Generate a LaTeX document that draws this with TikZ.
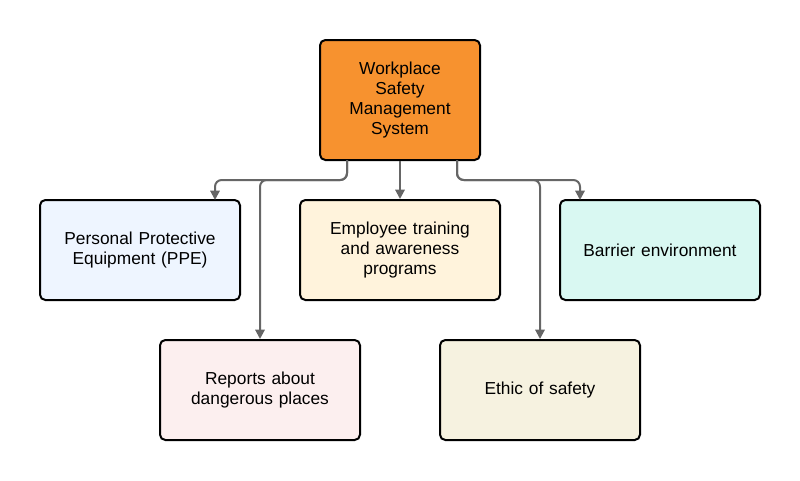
\documentclass[tikz,border=0pt]{standalone}
\usepackage{fontspec}
\setmainfont{Liberation Sans}
\usetikzlibrary{arrows.meta}
\definecolor{orangef}{HTML}{F7922F}
\definecolor{bluef}{HTML}{EEF5FF}
\definecolor{yelf}{HTML}{FFF3DC}
\definecolor{tealf}{HTML}{D9F8F2}
\definecolor{pinkf}{HTML}{FCEFEF}
\definecolor{beigef}{HTML}{F6F2E0}
\definecolor{lineg}{HTML}{666666}
\begin{document}
\begin{tikzpicture}[x=0.75pt,y=-0.75pt,
  box/.style={draw=black,line width=1.5pt,rounded corners=4pt,minimum width=150pt,minimum height=75pt,align=center,font=\fontsize{13}{15}\selectfont,text width=140pt},
  conn/.style={draw=lineg,line width=1.5pt,rounded corners=5pt,-{Triangle[length=7pt,width=7pt]}}]
\useasboundingbox (0,0) rectangle (800,480);
\node[box,fill=orangef,minimum width=120pt,minimum height=90pt,text width=110pt] (top) at (400,100) {Workplace\\Safety\\Management\\System};
\node[box,fill=bluef] (ppe) at (140,250) {Personal Protective\\Equipment (PPE)};
\node[box,fill=yelf] (emp) at (400,250) {Employee training\\and awareness\\programs};
\node[box,fill=tealf] (bar) at (660,250) {Barrier environment};
\node[box,fill=pinkf] (rep) at (260,390) {Reports about\\dangerous places};
\node[box,fill=beigef] (eth) at (540,390) {Ethic of safety};
\coordinate (l) at (347,160);
\coordinate (r) at (457,160);
\draw[conn] (l) |- (260,180) -| (215,200);
\draw[conn] (l) |- (260,180) -- (rep.north);
\draw[conn] (top.south) -- (emp.north);
\draw[conn] (r) |- (540,180) -| (580,200);
\draw[conn] (r) |- (540,180) -- (eth.north);
\end{tikzpicture}
\end{document}
